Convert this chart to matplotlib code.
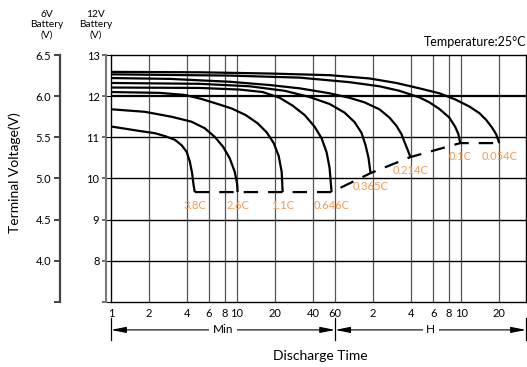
import matplotlib.pyplot as plt
from matplotlib.ticker import NullLocator
from matplotlib.transforms import blended_transform_factory

plt.rcParams['font.family'] = ['Lato', 'DejaVu Sans']

# discharge rates and curves (time in minutes, voltage for 12V battery)
rates = ['3.8C', '2.6C', '1.1C', '0.646C', '0.365C', '0.214C', '0.1C', '0.054C']

t_38 = [1.02, 1.64, 2.23, 2.68, 3.21, 3.63, 3.98, 4.22, 4.40, 4.52, 4.62]
v_38 = [11.26, 11.16, 11.10, 11.03, 10.94, 10.81, 10.65, 10.41, 10.13, 9.84, 9.67]

t_26 = [1.02, 1.86, 3.02, 4.35, 5.55, 6.66, 7.75, 8.75, 9.59, 10.0, 10.1]
v_26 = [11.68, 11.62, 11.50, 11.38, 11.22, 11.01, 10.77, 10.49, 10.16, 9.88, 9.67]

t_11 = [1.02, 2.44, 3.85, 5.25, 7.03, 9.08, 11.72, 14.58, 17.19, 19.53, 21.39, 22.6, 23.0]
v_11 = [12.10, 12.08, 12.03, 11.93, 11.81, 11.70, 11.54, 11.34, 11.12, 10.86, 10.55, 10.16, 9.67]

t_0646 = [1.02, 5.07, 10.5, 16.0, 21.8, 27.6, 34.4, 41.2, 46.8, 51.3, 54.2, 56.2]
v_0646 = [12.21, 12.20, 12.16, 12.10, 11.96, 11.77, 11.54, 11.26, 10.98, 10.64, 10.26, 9.67]

t_0365 = [1.02, 5.07, 12.6, 23.9, 37.6, 54.2, 71.3, 85.5, 97.1, 104.5, 110.4, 114.5]
v_0365 = [12.32, 12.30, 12.24, 12.13, 11.98, 11.81, 11.60, 11.37, 11.11, 10.81, 10.50, 10.13]

t_0214 = [1.02, 2.93, 8.75, 18.2, 31.4, 54.2, 78.0, 102.6, 134.9, 161.8, 183.8, 201.4, 212.7, 224.7, 237.3]
v_0214 = [12.44, 12.42, 12.35, 12.27, 12.19, 12.07, 11.96, 11.85, 11.68, 11.48, 11.28, 11.08, 10.89, 10.71, 10.52]

t_01 = [1.02, 8.75, 31.4, 78.0, 134.9, 194.2, 279.7, 335.6, 402.6, 483, 539, 569.5, 590]
v_01 = [12.53, 12.50, 12.45, 12.34, 12.24, 12.13, 11.97, 11.85, 11.69, 11.48, 11.25, 11.08, 10.86]

t_0054 = [1.02, 5.07, 18.2, 54.2, 112.4, 183.8, 279.7, 402.6, 539, 695, 835, 949, 1058, 1138, 1202]
v_0054 = [12.59, 12.58, 12.55, 12.51, 12.43, 12.32, 12.19, 12.07, 11.92, 11.75, 11.59, 11.42, 11.23, 11.07, 10.86]

times = [t_38, t_26, t_11, t_0646, t_0365, t_0214, t_01, t_0054]
volts = [v_38, v_26, v_11, v_0646, v_0365, v_0214, v_01, v_0054]

x_ticks = [1, 2, 4, 6, 8, 10, 20, 40, 60, 120, 240, 360, 480, 600, 1200]
x_labels = ['1', '2', '4', '6', '8', '10', '20', '40', '60', '2', '4', '6', '8', '10', '20']
v12_ticks = [7, 8, 9, 10, 11, 12, 13]
v12_labels = ['', '8', '9', '10', '11', '12', '13']
v6_ticks = [3.5, 4.0, 4.5, 5.0, 5.5, 6.0, 6.5]
v6_labels = ['', '4.0', '4.5', '5.0', '5.5', '6.0', '6.5']

orange = '#F39A4E'

fig = plt.figure(figsize=(5.27, 3.67), dpi=100)
ax = fig.add_axes([111 / 527, 65 / 367, 415 / 527, 247 / 367])
ax.set_xscale('log')
ax.set_xlim(1, 1960)
ax.set_ylim(7, 13)

# grid
for t in x_ticks[1:]:
    ax.axvline(t, color='#555555', lw=0.9, zorder=1)
for v in v12_ticks[1:-1]:
    ax.axhline(v, color='black', lw=1.6 if v == 12 else 1.0, zorder=1)

for s in ax.spines.values():
    s.set_linewidth(1.0)
    s.set_color('black')

ax.set_xticks(x_ticks)
ax.set_xticklabels(x_labels)
ax.xaxis.set_minor_locator(NullLocator())
ax.tick_params(axis='x', length=0, pad=4, labelsize=8)
ax.tick_params(axis='y', left=False, labelleft=False)

# curves
for t, v in zip(times, volts):
    ax.plot(t, v, color='black', lw=1.6, solid_capstyle='butt', solid_joinstyle='round', zorder=3)

# end-of-discharge dashed line + labels
end_t = [t[-1] for t in times]
end_v = [v[-1] for v in volts]
ax.plot(end_t, end_v, color='black', lw=1.6, dashes=(6.5, 4.5), zorder=3)
for r, t, v in zip(rates, end_t, end_v):
    ax.annotate(r, (t, v), xytext=(0, -9.5), textcoords='offset points',
                ha='center', va='center', fontsize=8, color=orange)

# 12V axis
ax12 = ax.twinx()
ax12.set_ylim(7, 13)
for k in ['right', 'top', 'bottom']:
    ax12.spines[k].set_visible(False)
ax12.spines['left'].set_visible(True)
ax12.spines['left'].set_position(('outward', 3.3))
ax12.spines['left'].set_color('#777777')
ax12.spines['left'].set_linewidth(1.5)
ax12.yaxis.set_ticks_position('left')
ax12.set_yticks(v12_ticks)
ax12.set_yticklabels(v12_labels)
ax12.tick_params(axis='y', length=3, width=1.2, color='#555555', pad=2, labelsize=8)

# 6V axis
ax6 = ax.twinx()
ax6.set_ylim(3.5, 6.5)
for k in ['right', 'top', 'bottom']:
    ax6.spines[k].set_visible(False)
ax6.spines['left'].set_visible(True)
ax6.spines['left'].set_position(('outward', 36.7))
ax6.spines['left'].set_color('#444444')
ax6.spines['left'].set_linewidth(1.6)
ax6.yaxis.set_ticks_position('left')
ax6.set_yticks(v6_ticks)
ax6.set_yticklabels(v6_labels)
ax6.tick_params(axis='y', length=4.5, width=1.4, color='#444444', pad=2, labelsize=8)

# Min / H arrows under the axis
tr = blended_transform_factory(ax.transData, ax.transAxes)
x_left, x_mid, x_right = x_ticks[0], x_ticks[8], ax.get_xlim()[1]
y_arr = -0.113
for xb in [x_left, x_mid, x_right]:
    ax.plot([xb, xb], [-0.065, -0.155], transform=tr, color='black', lw=0.9, clip_on=False)
for a, b, lbl in [(x_left, x_mid, 'Min'), (x_mid, x_right, 'H')]:
    ax.annotate('', xy=(a, y_arr), xytext=(b, y_arr), xycoords=tr, textcoords=tr,
                arrowprops=dict(arrowstyle='<|-|>,head_length=0.9,head_width=0.18',
                                color='black', lw=0.8, shrinkA=0, shrinkB=0,
                                mutation_scale=10), annotation_clip=False)
    xm = (a * b) ** 0.5
    ax.text(xm, y_arr, lbl, transform=tr, ha='center', va='center', fontsize=8.5,
            bbox=dict(facecolor='white', edgecolor='none', pad=2.5), clip_on=False)

fig.text(0.607, 0.030, 'Discharge Time', ha='center', va='center', fontsize=10)
fig.text(0.028, 0.529, 'Terminal Voltage(V)', rotation=90, ha='center', va='center', fontsize=10)
fig.text(0.998, 0.886, 'Temperature:25°C', ha='right', va='center', fontsize=9)
fig.text(0.089, 0.932, '6V\nBattery\n(V)', ha='center', va='center', fontsize=7.3, linespacing=1.2)
fig.text(0.182, 0.932, '12V\nBattery\n(V)', ha='center', va='center', fontsize=7.3, linespacing=1.2)

fig.savefig('out.png', dpi=100)
